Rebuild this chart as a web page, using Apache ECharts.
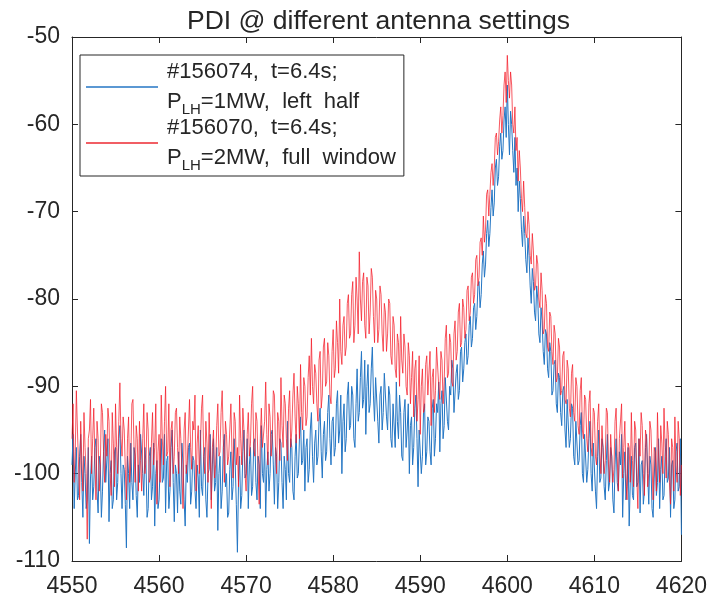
<!DOCTYPE html>
<html>
<head>
<meta charset="utf-8">
<script src="https://cdn.jsdelivr.net/npm/echarts@6/dist/echarts.min.js"></script>
<style>html,body{margin:0;padding:0;background:#fff}#c{width:710px;height:598px}</style>
</head>
<body>
<div id="c"></div>
<script>
const xStart = 4550, xStep = 0.125;
const xTicks = [4550, 4560, 4570, 4580, 4590, 4600, 4610, 4620];
const yTicks = [-110, -100, -90, -80, -70, -60, -50];
const titleText = 'PDI @ different antenna settings';
const seriesNames = ['#156074,  t=6.4s;|1MW,  left  half', '#156070,  t=6.4s;|2MW,  full  window'];

// #156074, 1 MW, left half (blue) — 8 samples per unit
const blueVals = [
-99,-95.5,-104,-100,-97,-103,-102.5,-98,          // 4550
-95.5,-101,-105,-98,-100,-104,-103,-97,           // 4551
-108,-100.5,-98,-103,-101.5,-97,-96,-102,         // 4552
-104.5,-98,-99,-105,-102,-97.5,-95,-101,          // 4553
-101,-96,-105.5,-100,-98.5,-104,-103,-97.5,       // 4554
-97,-103,-101,-96,-94.5,-100,-104,-99,            // 4555
-99.5,-103.5,-108.5,-98,-100,-104,-96.5,-101,     // 4556
-103,-97,-98,-102.5,-105,-99,-101,-95.5,          // 4557
-95.5,-100,-102.5,-97,-99,-105,-104,-98,          // 4558
-97,-103,-101.5,-96.5,-106,-100,-98.5,-104,       // 4559
-103,-99,-96,-101,-100.5,-95.5,-104.5,-98.5,      // 4560
-98,-104,-102,-97,-95,-101,-105.5,-99,            // 4561
-100,-104.5,-97.5,-102,-103.5,-96.5,-99,-103,     // 4562
-106,-99,-101,-97,-96.5,-103.5,-102,-98,          // 4563
-98.5,-102,-104,-99,-100.5,-105,-95,-101.5,       // 4564
-102.5,-98,-97,-103,-105,-100,-99.5,-95.5,        // 4565
-103,-99,-96,-102,-101,-97,-106.5,-100,           // 4566
-98,-104,-102,-97,-95.5,-101.5,-100,-105,         // 4567
-104.5,-99.5,-97.5,-103,-101.5,-96,-99,-103.5,    // 4568
-109,-101,-98,-104,-102.5,-97.5,-95,-100.5,       // 4569
-100,-96,-104,-99,-97,-102.5,-101.5,-96.5,        // 4570
-96,-101,-103,-98,-99,-104,-94.5,-100,            // 4571
-101,-96.5,-105,-99.5,-97.5,-102,-100,-95.5,      // 4572
-95,-99,-103.5,-97,-98,-104,-101,-96,             // 4573
-96.5,-101,-104,-98,-99.5,-103,-94,-100,          // 4574
-101,-96,-97,-102,-103,-98,-95.5,-100.5,          // 4575
-100,-96,-93.5,-99,-98.5,-95,-102,-97,            // 4576
-96,-101,-99.5,-95,-93,-98,-101,-96.5,            // 4577
-95,-99,-98,-94,-92.5,-97.5,-100.5,-95.5,         // 4578
-94,-98.5,-97.5,-93,-91,-96,-99,-94,              // 4579
-93.5,-98,-97,-92,-90.5,-96.5,-95,-91,            // 4580
-100,-94,-92,-97.5,-96,-91,-89.5,-95,             // 4581
-94.5,-90,-91,-96,-97,-92,-88,-94,                // 4582
-93,-89,-86,-92.5,-91.5,-87,-95.5,-90,            // 4583
-87.5,-93,-92,-88,-85.5,-91,-94,-89,              // 4584
-89,-94,-96.5,-91,-90,-95,-93,-88.5,              // 4585
-88.5,-93.5,-95,-90,-91,-96,-97,-92,              // 4586
-92,-97,-89.5,-94,-96,-91,-93,-98,                // 4587
-98.5,-93,-91.5,-97,-95,-92,-100,-94.5,           // 4588
-93.5,-99,-97,-92.5,-91,-96,-101.5,-95,           // 4589
-95,-100,-98,-93,-92,-99,-97.5,-93.5,             // 4590
-94,-97.5,-99,-92.5,-91.5,-98,-96,-92,            // 4591
-93,-89.5,-97.5,-92,-90.5,-96,-94.5,-89,          // 4592
-89,-94,-95,-90,-91,-87,-88,-93,                  // 4593
-93,-88.5,-87.5,-91.5,-90.5,-86,-85.5,-89.5,      // 4594
-88,-85,-84,-87.5,-86.5,-83,-82,-85.5,            // 4595
-84.5,-81,-80.5,-83.5,-82,-78.5,-78,-81,          // 4596
-79.5,-76,-74.5,-77.5,-76,-72.5,-71,-74,          // 4597
-72.5,-69.5,-67.5,-70.5,-69,-65,-64,-67,          // 4598
-66,-62.5,-61,-64,-63,-59.5,-58,-61.5,            // 4599
-55.5,-60,-63.5,-58.5,-60,-63,-65.5,-61.5,        // 4600
-67,-65,-70,-66.5,-68.5,-72,-74,-70.5,            // 4601
-72.5,-75.5,-77,-73,-75,-78.5,-80.5,-76.5,        // 4602
-78,-81.5,-82.5,-78.5,-80,-84,-85,-81,            // 4603
-82.5,-86,-87.5,-83.5,-84,-88,-89,-85,            // 4604
-86,-91,-90.5,-87.5,-87,-92,-93,-88.5,            // 4605
-89,-93,-94.5,-90.5,-90,-95,-97,-91.5,            // 4606
-91.5,-97,-96,-92,-92.5,-98,-99,-94,              // 4607
-94,-99,-98.5,-94.5,-93,-100,-101,-95.5,          // 4608
-95.5,-101,-99.5,-96,-94,-100,-102,-96.5,         // 4609
-96.5,-102,-104,-98,-95,-101,-100.5,-96,          // 4610
-97,-101.5,-103,-98.5,-95.5,-102,-101,-97,        // 4611
-98,-103,-104.5,-99,-96,-101,-102,-97.5,          // 4612
-99,-95.5,-105,-100,-97.5,-103,-101.5,-97,        // 4613
-106,-101,-98,-102.5,-103,-97,-96.5,-101.5,       // 4614
-101,-96,-104.5,-99,-98.5,-103.5,-102,-97,        // 4615
-95.5,-100,-103.5,-98,-99,-104,-105,-100.5,       // 4616
-97,-102.5,-101,-96,-104,-99.5,-98,-103,          // 4617
-102.5,-98,-96,-101,-100.5,-97,-105,-99,          // 4618
-98.5,-104,-103,-97.5,-96.5,-102,-101.5,-96,      // 4619
-107                                              // 4620
];

// #156070, 2 MW, full window (red) — 8 samples per unit
const redVals = [
-96,-92,-101,-97.5,-90.5,-95,-99,-103,            // 4550
-94,-98.5,-102,-93,-97,-100,-107.5,-96,           // 4551
-95,-91.5,-100,-96,-92.5,-98,-103,-94,            // 4552
-96,-102,-99.5,-92,-93,-97.5,-101,-95.5,          // 4553
-98,-92.5,-94,-100,-102.5,-93,-96.5,-101.5,       // 4554
-92,-97,-100,-94,-89.6,-96,-98,-93.5,             // 4555
-95,-99.5,-103,-96,-93.5,-101,-99,-92,            // 4556
-91.5,-97,-101,-94.5,-96,-102,-94,-98.5,          // 4557
-102,-96,-92,-100,-98.5,-93,-95,-101,             // 4558
-100.5,-96.5,-93,-99,-97,-92,-103.5,-97.5,        // 4559
-95.5,-101,-91,-96,-99,-94,-90,-98,               // 4560
-97.5,-92,-101.5,-95,-94,-100,-98,-93,            // 4561
-92.5,-97,-100,-93.5,-96,-99.5,-104,-95,          // 4562
-93,-100,-98.5,-95,-91.5,-97,-99.5,-94,           // 4563
-95,-91,-102,-96.5,-94.5,-100,-97,-92.5,          // 4564
-91,-98,-100,-94,-96.5,-101,-93,-97.5,            // 4565
-104,-97,-95,-100.5,-99,-94.5,-92,-98,            // 4566
-97.5,-93,-90.5,-96,-101,-94,-95.5,-99,           // 4567
-98,-95,-92,-97.5,-100.5,-93,-94,-99,             // 4568
-97,-101.5,-91,-96,-99,-92.5,-95,-100,            // 4569
-102,-95.5,-93,-98,-96.5,-92,-90,-97,             // 4570
-98,-93,-94,-99.5,-103.5,-96,-92.5,-97,           // 4571
-97,-94,-89.5,-95.5,-99,-92,-93.5,-98,            // 4572
-96,-90.5,-91,-97,-100,-93,-94,-98.5,             // 4573
-89,-94.5,-97,-91,-92,-96,-98.5,-92.5,            // 4574
-90.5,-97,-95,-91,-88.5,-93.5,-96.5,-90,          // 4575
-92,-96,-87.5,-93,-95,-89,-90,-94.5,              // 4576
-93.5,-89,-86.5,-91,-84.5,-90,-92,-87.5,          // 4577
-88.5,-92,-94,-87,-86,-92.5,-91,-85.5,            // 4578
-84.5,-90,-89.5,-85,-86.5,-91,-92,-86,            // 4579
-83.5,-89,-88,-82.5,-85,-88.5,-80,-86,            // 4580
-87.5,-83,-82,-86.5,-85.5,-80.5,-79.5,-84.5,      // 4581
-84,-79.5,-78,-85,-83,-77.5,-80,-84,              // 4582
-74.6,-80,-82.5,-78,-77,-83,-84.5,-77.5,          // 4583
-78.5,-84,-81.5,-76.5,-77.5,-82,-85,-79,          // 4584
-80,-85,-83.5,-78.5,-79.5,-84,-86,-80.5,          // 4585
-81.5,-86,-84,-80,-80.5,-86.5,-87.5,-82,          // 4586
-83,-88,-89,-84,-85,-90,-82,-87,                  // 4587
-88.5,-84,-85.5,-90,-91,-85,-86.5,-92,            // 4588
-89,-86,-93.5,-88,-87,-94,-91.5,-86.5,            // 4589
-95.5,-90,-88,-93,-92.5,-87.5,-86.5,-91,          // 4590
-91,-86,-94.5,-89,-88,-93,-90.5,-85.5,            // 4591
-85.5,-90,-91.5,-86,-87,-92,-89.5,-84.5,          // 4592
-83,-89,-88.5,-84,-85,-89.5,-90,-84,              // 4593
-82.5,-87,-86,-81.5,-80.5,-85.5,-85,-80,          // 4594
-81,-84.5,-83.5,-79,-78.5,-82.5,-81.5,-77.5,      // 4595
-77,-80.5,-79.5,-75.5,-75,-78.5,-77.5,-73.5,      // 4596
-73,-75,-70.5,-73.5,-72,-68,-67.5,-70.5,          // 4597
-68,-65.5,-64.5,-67,-65,-61.5,-61,-63.5,          // 4598
-62,-59.5,-58,-61,-59,-55.5,-54,-57.5,            // 4599
-52.1,-55,-57,-54,-55.5,-60,-61,-58,              // 4600
-63,-61.5,-66.5,-63,-65,-68.5,-70,-66.5,          // 4601
-69.5,-72.5,-73,-70,-71.5,-75,-76,-72.5,          // 4602
-74.5,-79,-78.5,-75,-76,-80,-81,-77,              // 4603
-79,-84,-83.5,-79.5,-80.5,-85.5,-86,-81.5,        // 4604
-82,-86,-87.5,-83,-84,-89.5,-89,-84.5,            // 4605
-85.5,-91,-90.5,-86.5,-86,-91.5,-92,-87,          // 4606
-88,-92.5,-93.5,-88.5,-87.5,-93,-94,-89,          // 4607
-90,-94.5,-95.5,-90.5,-89,-95,-96,-91,            // 4608
-91.5,-96,-97.5,-92,-90.5,-97,-98,-92.5,          // 4609
-93,-98,-99,-94,-92,-97.5,-100,-94.5,             // 4610
-94.5,-100,-98.5,-92.5,-93,-99,-101,-95.5,        // 4611
-95.5,-101,-99.5,-94,-92.5,-98,-102,-96,          // 4612
-96,-92,-100.5,-97,-94,-100,-103,-96.5,           // 4613
-97,-101,-93,-98.5,-101.5,-94,-95,-100.5,         // 4614
-104,-96,-98,-93,-94.5,-100,-102.5,-95,           // 4615
-96,-101.5,-100,-94,-95,-99,-103,-97,             // 4616
-97.5,-102,-93,-98,-101,-94.5,-96.5,-100,         // 4617
-92.5,-97,-100.5,-94,-95.5,-101,-103.5,-96,       // 4618
-97,-102,-93.5,-99,-101,-94,-96,-102.5,           // 4619
-99                                               // 4620
];

function pairs(vals) { return vals.map((v, i) => [xStart + i * xStep, v]); }

const FONT = 'Liberation Sans';
const AX = '#262626';
const chart = echarts.init(document.getElementById('c'), null, { renderer: 'canvas' });

function legendFmt(name) {
  const parts = name.split('|');
  return '{f|' + parts[0] + '}\n{f|P}{s|LH}{a|=' + parts[1] + '}';
}

const axisCommon = {
  type: 'value', interval: 10,
  axisLine: { show: true, lineStyle: { color: AX, width: 1 } },
  axisTick: { show: true, inside: true, length: 6, lineStyle: { color: AX } },
  splitLine: { show: false }
};
const labelStyle = { fontFamily: FONT, fontSize: 23, color: AX, formatter: v => String(v) };

chart.setOption({
  animation: false,
  backgroundColor: '#fff',
  title: {
    text: titleText,
    left: 182, top: 3,
    textStyle: { fontFamily: FONT, fontSize: 26.5, fontWeight: 'normal', color: AX }
  },
  grid: { left: 72, right: 28, top: 37, bottom: 37 },
  legend: {
    left: 80, top: 55, orient: 'vertical',
    backgroundColor: '#fff', borderColor: AX, borderWidth: 1,
    padding: [6, 8, 3, 6], itemGap: 0,
    itemWidth: 72, itemHeight: 1.6, icon: 'rect',
    formatter: legendFmt,
    textStyle: {
      fontFamily: FONT, fontSize: 22, color: AX,
      rich: {
        f: { fontFamily: FONT, fontSize: 22, color: AX, lineHeight: 30, padding: [0, 0, 0, 4] },
        a: { fontFamily: FONT, fontSize: 22, color: AX, lineHeight: 30 },
        s: { fontFamily: FONT, fontSize: 15, color: AX, lineHeight: 30, verticalAlign: 'bottom', padding: [12, 0, 0, 0] }
      }
    }
  },
  xAxis: [
    Object.assign({}, axisCommon, {
      min: xTicks[0], max: xTicks[xTicks.length - 1], position: 'bottom',
      axisLabel: Object.assign({ margin: 14 }, labelStyle)
    }),
    Object.assign({}, axisCommon, {
      min: xTicks[0], max: xTicks[xTicks.length - 1], position: 'top',
      axisLabel: { show: false }
    })
  ],
  yAxis: [
    Object.assign({}, axisCommon, {
      min: yTicks[0], max: yTicks[yTicks.length - 1], position: 'left',
      axisLabel: Object.assign({ margin: 12 }, labelStyle)
    }),
    Object.assign({}, axisCommon, {
      min: yTicks[0], max: yTicks[yTicks.length - 1], position: 'right',
      axisLabel: { show: false }
    })
  ],
  series: [
    {
      name: seriesNames[0], type: 'line', data: pairs(blueVals), symbol: 'none',
      lineStyle: { color: 'rgb(36,118,196)', width: 1 }, itemStyle: { color: 'rgb(36,118,196)' }
    },
    {
      name: seriesNames[1], type: 'line', data: pairs(redVals), symbol: 'none',
      lineStyle: { color: 'rgba(244,24,36,0.72)', width: 1 }, itemStyle: { color: 'rgb(236,40,48)' }
    }
  ]
});
</script>
</body>
</html>
